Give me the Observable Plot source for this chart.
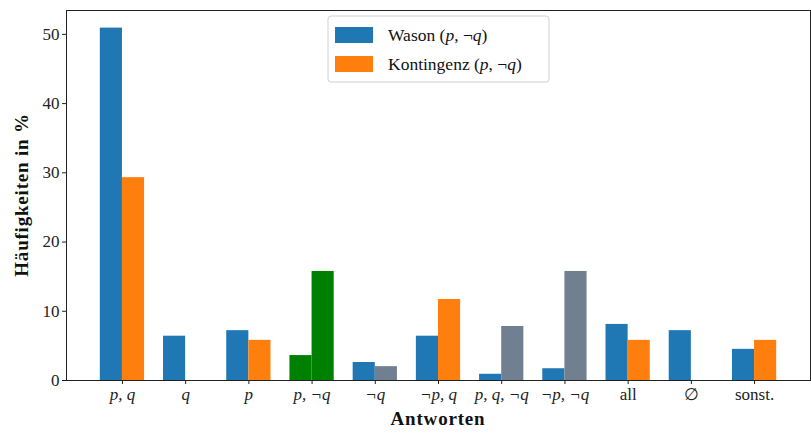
<!DOCTYPE html>
<html><head><meta charset="utf-8">
<script src="https://cdn.jsdelivr.net/npm/d3@7"></script>
<script src="https://cdn.jsdelivr.net/npm/@observablehq/plot@0.6"></script>
<style>
body{margin:0;background:#fff;}
svg{font-family:"Liberation Serif",serif;}
</style>
</head><body>
<div id="chart"></div>
<script>
const categories = ["p, q","q","p","p, ¬q","¬q","¬p, q","p, q, ¬q","¬p, ¬q","all","∅","sonst."];
const mathLabel = [true,true,true,true,true,true,true,true,false,false,false];
const wason = [50.9,6.4,7.2,3.6,2.6,6.4,0.9,1.7,8.1,7.2,4.5];
const kontingenz = [29.3,0,5.8,15.75,2.0,11.7,7.8,15.75,5.8,0,5.8];
const wasonColors = ["#1f77b4","#1f77b4","#1f77b4","green","#1f77b4","#1f77b4","#1f77b4","#1f77b4","#1f77b4","#1f77b4","#1f77b4"];
const kontColors = ["#ff7f0e","#ff7f0e","#ff7f0e","green","slategray","#ff7f0e","slategray","slategray","#ff7f0e","#ff7f0e","#ff7f0e"];
const seriesNames = ["Wason", "Kontingenz"];
const yTicks = [0,10,20,30,40,50];
const barWidth = 0.35;

const rows = categories.flatMap((c, i) => [
  {i, series: "Wason", value: wason[i], color: wasonColors[i], off: -barWidth},
  {i, series: "Kontingenz", value: kontingenz[i], color: kontColors[i], off: 0}
]);

const ymax = d3.max([...wason, ...kontingenz]) * 1.05;
const xPad = (categories.length - 1 + 2 * barWidth) * 0.05 + barWidth;

const fontSize = 17;
const plot = Plot.plot({
  width: 811, height: 435,
  marginLeft: 66, marginRight: 1, marginTop: 10, marginBottom: 55,
  style: {fontFamily: "Liberation Serif, serif", fontSize: fontSize + "px", color: "#222", background: "white"},
  x: {type: "linear", domain: [-xPad, categories.length - 1 + xPad]},
  y: {domain: [0, ymax]},
  marks: [
    Plot.rect(rows, {x1: d => d.i + d.off, x2: d => d.i + d.off + barWidth, y1: 0, y2: "value", fill: "color"}),
    Plot.axisX({ticks: d3.range(categories.length), tickFormat: i => categories[i], tickSize: 4, tickPadding: 3, label: null, fontSize: fontSize, stroke: "#222"}),
    Plot.axisY({ticks: yTicks, tickSize: 4, tickPadding: 3, label: null, fontSize: fontSize, stroke: "#222"}),
    Plot.frame({stroke: "#222", strokeWidth: 1})
  ]
});
document.getElementById("chart").appendChild(plot);

const svg = d3.select(plot);
// italic math tick labels
svg.selectAll("g[aria-label='x-axis tick label'] text").each(function(d, k){
  if (mathLabel[k]) d3.select(this).style("font-style", "italic");
});
svg.selectAll("g[aria-label='x-axis tick label'], g[aria-label='y-axis tick label']").attr("fill", "#222");

// axis titles
svg.append("text").attr("x", 438).attr("y", 425).attr("text-anchor", "middle")
  .attr("font-weight", "bold").attr("font-size", 19).attr("letter-spacing", 0.8).attr("fill", "#111").text("Antworten");
svg.append("text").attr("transform", "translate(28,195) rotate(-90)").attr("text-anchor", "middle")
  .attr("font-weight", "bold").attr("font-size", 19).attr("letter-spacing", 0.8).attr("fill", "#111").text("Häufigkeiten in %");

// legend
const lg = svg.append("g").attr("text-anchor", "start");
lg.append("rect").attr("x", 328).attr("y", 16).attr("width", 221).attr("height", 66).attr("rx", 3)
  .attr("fill", "white").attr("fill-opacity", 0.8).attr("stroke", "#d0d0d0");
const legendColors = ["#1f77b4", "#ff7f0e"];
seriesNames.forEach((name, k) => {
  const cy = 35 + k * 29;
  lg.append("rect").attr("x", 335).attr("y", cy - 8).attr("width", 38).attr("height", 16).attr("fill", legendColors[k]);
  const t = lg.append("text").attr("x", 388).attr("y", cy + 5.5).attr("font-size", 17.5).attr("fill", "#111");
  t.append("tspan").text(name + " (");
  t.append("tspan").attr("font-style", "italic").text("p");
  t.append("tspan").text(", ¬");
  t.append("tspan").attr("font-style", "italic").text("q");
  t.append("tspan").text(")");
});
</script>
</body></html>
